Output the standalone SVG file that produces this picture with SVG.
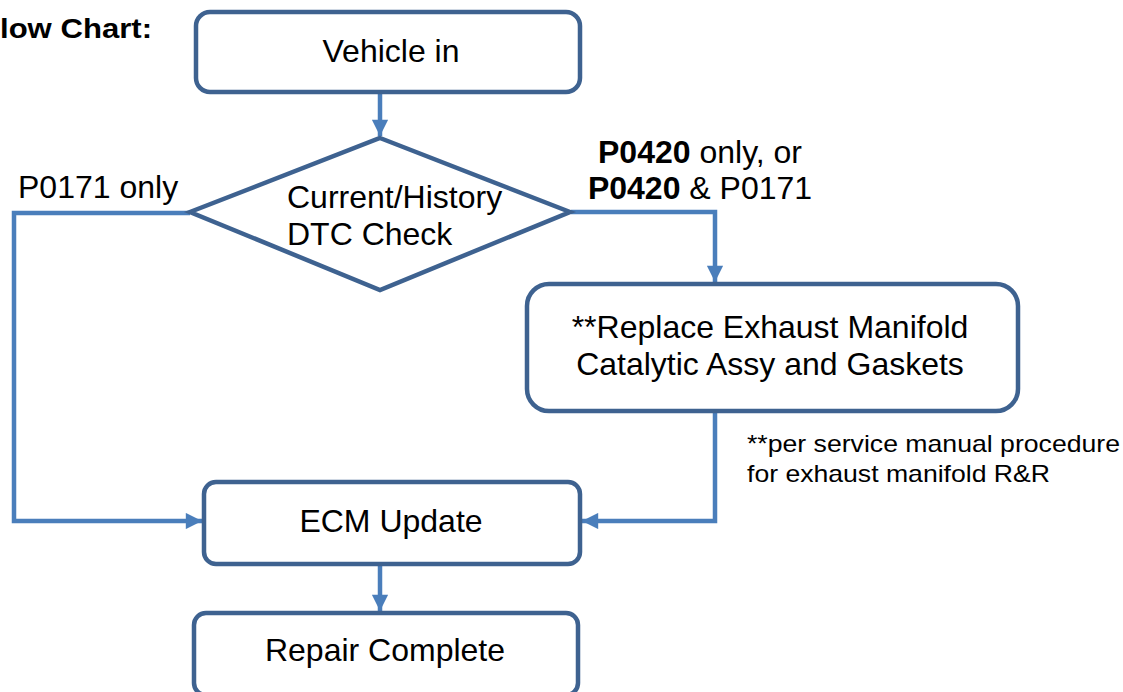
<svg xmlns="http://www.w3.org/2000/svg" width="1123" height="692" viewBox="0 0 1123 692">
<style>
.box{fill:#fff;stroke:#3e6290;stroke-width:4.5}
.con{fill:none;stroke:#4a7ebb;stroke-width:4.5}
.t{font-family:"Liberation Sans",Arial,sans-serif;font-size:32px;fill:#000}
.n{font-family:"Liberation Sans",Arial,sans-serif;font-size:24px;fill:#000}
.b{font-weight:bold}
</style>
<defs>
<marker id="ah" viewBox="0 0 10 10" refX="10" refY="5" markerWidth="3.8" markerHeight="3.6" markerUnits="strokeWidth" orient="auto">
<path d="M0,0 L10,5 L0,10 z" fill="#4a7ebb"/>
</marker>
</defs>
<rect width="1123" height="692" fill="#fff"/>
<text class="t b" x="-19" y="38" style="font-size:28px" textLength="171" lengthAdjust="spacingAndGlyphs">Flow Chart:</text>
<g id="connectors">
<line class="con" x1="380" y1="94" x2="380" y2="136" marker-end="url(#ah)"/>
<polyline class="con" points="190,213 14,213 14,521 202,521" marker-end="url(#ah)"/>
<polyline class="con" points="571,212 715,212 715,282" marker-end="url(#ah)"/>
<polyline class="con" points="715,412 715,521 582,521" marker-end="url(#ah)"/>
<line class="con" x1="380" y1="566" x2="380" y2="611" marker-end="url(#ah)"/>
</g>
<g id="vehicle-in">
<rect class="box" x="196" y="12" width="384" height="80" rx="14"/>
<text class="t" x="391" y="62" text-anchor="middle">Vehicle in</text>
</g>
<g id="dtc-check">
<polygon class="box" points="380,138 570,212 380,290 190,212"/>
<text class="t" x="287" y="208">Current/History</text>
<text class="t" x="287" y="245">DTC Check</text>
</g>
<g id="label-p0171">
<text class="t" x="18" y="198">P0171 only</text>
</g>
<g id="label-p0420">
<text class="t" x="700" y="163" text-anchor="middle"><tspan class="b">P0420</tspan> only, or</text>
<text class="t" x="700" y="199" text-anchor="middle"><tspan class="b">P0420</tspan> &amp; P0171</text>
</g>
<g id="replace">
<rect class="box" x="527" y="284" width="491" height="127" rx="22"/>
<text class="t" x="770" y="338" text-anchor="middle">**Replace Exhaust Manifold</text>
<text class="t" x="770" y="375" text-anchor="middle">Catalytic Assy and Gaskets</text>
</g>
<g id="note">
<text class="n" x="747" y="452" textLength="373" lengthAdjust="spacingAndGlyphs">**per service manual procedure</text>
<text class="n" x="747" y="482" textLength="303" lengthAdjust="spacingAndGlyphs">for exhaust manifold R&amp;R</text>
</g>
<g id="ecm-update">
<rect class="box" x="204" y="482" width="376" height="82" rx="12"/>
<text class="t" x="391" y="532" text-anchor="middle">ECM Update</text>
</g>
<g id="repair-complete">
<rect class="box" x="194" y="613" width="384" height="82" rx="12"/>
<text class="t" x="385" y="661" text-anchor="middle">Repair Complete</text>
</g>
</svg>
